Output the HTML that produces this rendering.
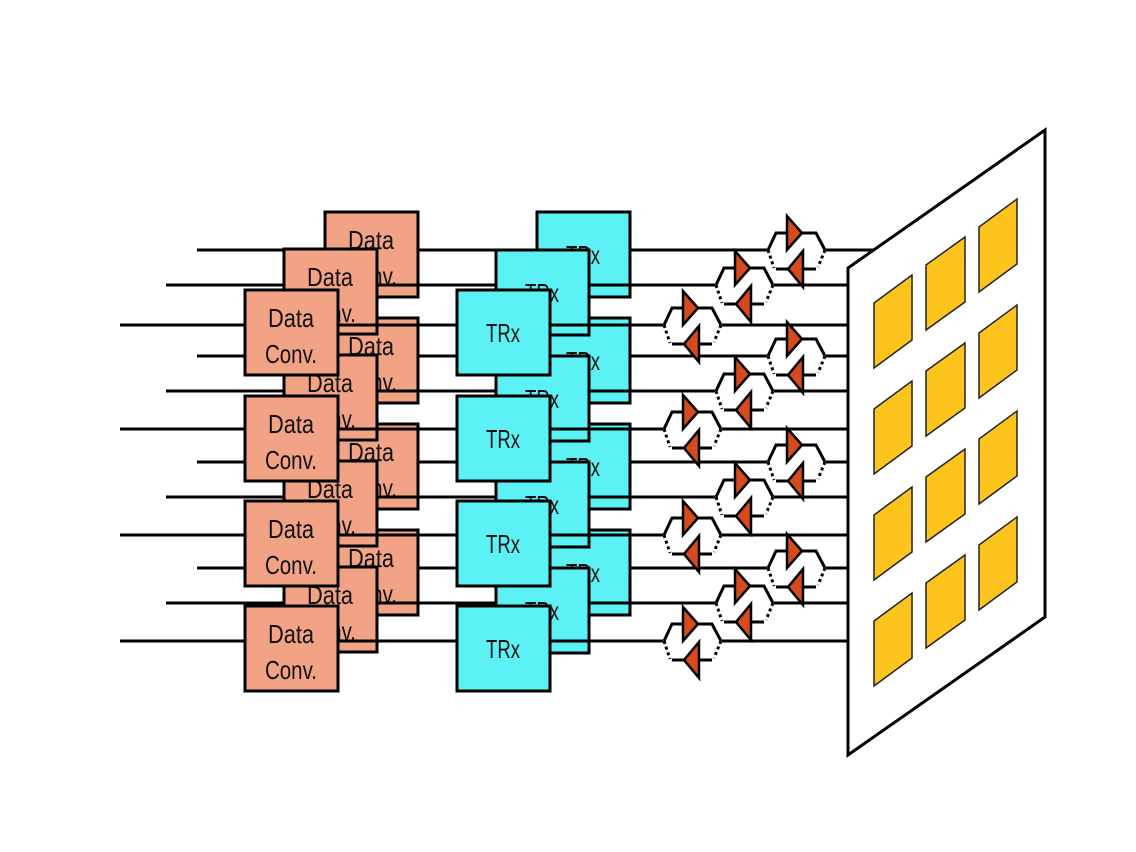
<!DOCTYPE html>
<html><head><meta charset="utf-8"><style>
html,body{margin:0;padding:0;background:#fff}
svg{display:block}
.dc{fill:#f2a385;stroke:#000;stroke-width:3}
.tr{fill:#5cf2f5;stroke:#000;stroke-width:3}
.t{font-family:"Liberation Sans",sans-serif;font-size:26px;fill:#111;text-anchor:middle}
.ln{stroke:#000;stroke-width:3}
</style></head><body>
<svg width="1136" height="852" viewBox="0 0 1136 852" xmlns="http://www.w3.org/2000/svg">
<defs>
<g id="amp">
<rect x="-1" y="-2.5" width="59" height="5" fill="#fff"/>
<path d="M0,0 L8,-17 L48,-17 L57,0" fill="none" stroke="#000" stroke-width="3"/>
<path d="M0,0 L6,18" fill="none" stroke="#000" stroke-width="3" stroke-dasharray="3,3"/>
<path d="M57,0 L50,17" fill="none" stroke="#000" stroke-width="3" stroke-dasharray="3,3"/>
<path d="M8,19 L48,19" fill="none" stroke="#000" stroke-width="3"/>
<polygon points="19,-34 19,0 34,-17" fill="#d64a1e" stroke="#000" stroke-width="2.5"/>
<polygon points="35,1 35,37 20,19" fill="#d64a1e" stroke="#000" stroke-width="2.5"/>
</g>
</defs>

<!-- back layer -->
<g class="ln">
<line x1="197" y1="250" x2="880" y2="250"/><line x1="197" y1="356" x2="880" y2="356"/>
<line x1="197" y1="462" x2="880" y2="462"/><line x1="197" y1="568" x2="880" y2="568"/>
</g>
<g>
<rect class="dc" x="325" y="212" width="93" height="85"/><text class="t" x="371" y="249" textLength="46" lengthAdjust="spacingAndGlyphs">Data</text><text class="t" x="371" y="285" textLength="52" lengthAdjust="spacingAndGlyphs">Conv.</text>
<rect class="dc" x="325" y="318" width="93" height="85"/><text class="t" x="371" y="355" textLength="46" lengthAdjust="spacingAndGlyphs">Data</text><text class="t" x="371" y="391" textLength="52" lengthAdjust="spacingAndGlyphs">Conv.</text>
<rect class="dc" x="325" y="424" width="93" height="85"/><text class="t" x="371" y="461" textLength="46" lengthAdjust="spacingAndGlyphs">Data</text><text class="t" x="371" y="497" textLength="52" lengthAdjust="spacingAndGlyphs">Conv.</text>
<rect class="dc" x="325" y="530" width="93" height="85"/><text class="t" x="371" y="567" textLength="46" lengthAdjust="spacingAndGlyphs">Data</text><text class="t" x="371" y="603" textLength="52" lengthAdjust="spacingAndGlyphs">Conv.</text>
<rect class="tr" x="537" y="212" width="93" height="85"/><text class="t" x="583" y="264" textLength="34" lengthAdjust="spacingAndGlyphs">TRx</text>
<rect class="tr" x="537" y="318" width="93" height="85"/><text class="t" x="583" y="370" textLength="34" lengthAdjust="spacingAndGlyphs">TRx</text>
<rect class="tr" x="537" y="424" width="93" height="85"/><text class="t" x="583" y="476" textLength="34" lengthAdjust="spacingAndGlyphs">TRx</text>
<rect class="tr" x="537" y="530" width="93" height="85"/><text class="t" x="583" y="582" textLength="34" lengthAdjust="spacingAndGlyphs">TRx</text>
</g>

<!-- mid layer -->
<g class="ln">
<line x1="166" y1="285" x2="880" y2="285"/><line x1="166" y1="391" x2="880" y2="391"/>
<line x1="166" y1="497" x2="880" y2="497"/><line x1="166" y1="603" x2="880" y2="603"/>
</g>
<g>
<rect class="dc" x="284" y="249" width="93" height="85"/><text class="t" x="330" y="286" textLength="46" lengthAdjust="spacingAndGlyphs">Data</text><text class="t" x="330" y="322" textLength="52" lengthAdjust="spacingAndGlyphs">Conv.</text>
<rect class="dc" x="284" y="355" width="93" height="85"/><text class="t" x="330" y="392" textLength="46" lengthAdjust="spacingAndGlyphs">Data</text><text class="t" x="330" y="428" textLength="52" lengthAdjust="spacingAndGlyphs">Conv.</text>
<rect class="dc" x="284" y="461" width="93" height="85"/><text class="t" x="330" y="498" textLength="46" lengthAdjust="spacingAndGlyphs">Data</text><text class="t" x="330" y="534" textLength="52" lengthAdjust="spacingAndGlyphs">Conv.</text>
<rect class="dc" x="284" y="567" width="93" height="85"/><text class="t" x="330" y="604" textLength="46" lengthAdjust="spacingAndGlyphs">Data</text><text class="t" x="330" y="640" textLength="52" lengthAdjust="spacingAndGlyphs">Conv.</text>
<rect class="tr" x="496" y="250" width="93" height="85"/><text class="t" x="542" y="302" textLength="34" lengthAdjust="spacingAndGlyphs">TRx</text>
<rect class="tr" x="496" y="356" width="93" height="85"/><text class="t" x="542" y="408" textLength="34" lengthAdjust="spacingAndGlyphs">TRx</text>
<rect class="tr" x="496" y="462" width="93" height="85"/><text class="t" x="542" y="514" textLength="34" lengthAdjust="spacingAndGlyphs">TRx</text>
<rect class="tr" x="496" y="568" width="93" height="85"/><text class="t" x="542" y="620" textLength="34" lengthAdjust="spacingAndGlyphs">TRx</text>
</g>

<!-- front layer -->
<g class="ln">
<line x1="120" y1="325" x2="880" y2="325"/><line x1="120" y1="429" x2="880" y2="429"/>
<line x1="120" y1="535" x2="880" y2="535"/><line x1="120" y1="641" x2="880" y2="641"/>
</g>
<g>
<rect class="dc" x="245" y="290" width="93" height="85"/><text class="t" x="291" y="327" textLength="46" lengthAdjust="spacingAndGlyphs">Data</text><text class="t" x="291" y="363" textLength="52" lengthAdjust="spacingAndGlyphs">Conv.</text>
<rect class="dc" x="245" y="396" width="93" height="85"/><text class="t" x="291" y="433" textLength="46" lengthAdjust="spacingAndGlyphs">Data</text><text class="t" x="291" y="469" textLength="52" lengthAdjust="spacingAndGlyphs">Conv.</text>
<rect class="dc" x="245" y="501" width="93" height="85"/><text class="t" x="291" y="538" textLength="46" lengthAdjust="spacingAndGlyphs">Data</text><text class="t" x="291" y="574" textLength="52" lengthAdjust="spacingAndGlyphs">Conv.</text>
<rect class="dc" x="245" y="606" width="93" height="85"/><text class="t" x="291" y="643" textLength="46" lengthAdjust="spacingAndGlyphs">Data</text><text class="t" x="291" y="679" textLength="52" lengthAdjust="spacingAndGlyphs">Conv.</text>
<rect class="tr" x="457" y="290" width="93" height="85"/><text class="t" x="503" y="342" textLength="34" lengthAdjust="spacingAndGlyphs">TRx</text>
<rect class="tr" x="457" y="396" width="93" height="85"/><text class="t" x="503" y="448" textLength="34" lengthAdjust="spacingAndGlyphs">TRx</text>
<rect class="tr" x="457" y="501" width="93" height="85"/><text class="t" x="503" y="553" textLength="34" lengthAdjust="spacingAndGlyphs">TRx</text>
<rect class="tr" x="457" y="606" width="93" height="85"/><text class="t" x="503" y="658" textLength="34" lengthAdjust="spacingAndGlyphs">TRx</text>
</g>

<!-- amplifiers -->
<use href="#amp" x="768" y="250"/><use href="#amp" x="768" y="356"/><use href="#amp" x="768" y="462"/><use href="#amp" x="768" y="568"/>
<use href="#amp" x="716" y="285"/><use href="#amp" x="716" y="391"/><use href="#amp" x="716" y="497"/><use href="#amp" x="716" y="603"/>
<use href="#amp" x="664" y="325"/><use href="#amp" x="664" y="429"/><use href="#amp" x="664" y="535"/><use href="#amp" x="664" y="641"/>

<!-- panel -->
<polygon points="848,268 1045,130 1045,617 848,755" fill="#fff" stroke="#000" stroke-width="3"/>
<g fill="#fcc41c" stroke="#222" stroke-width="1.5">
<polygon points="874,303 912,275 912,340 874,368"/>
<polygon points="926,265 965,237 965,302 926,330"/>
<polygon points="979,227 1017,199 1017,264 979,292"/>
<polygon points="874,409 912,381 912,446 874,474"/>
<polygon points="926,371 965,343 965,408 926,436"/>
<polygon points="979,333 1017,305 1017,370 979,398"/>
<polygon points="874,515 912,487 912,552 874,580"/>
<polygon points="926,477 965,449 965,514 926,542"/>
<polygon points="979,439 1017,411 1017,476 979,504"/>
<polygon points="874,621 912,593 912,658 874,686"/>
<polygon points="926,583 965,555 965,620 926,648"/>
<polygon points="979,545 1017,517 1017,582 979,610"/>
</g>
</svg>
</body></html>
